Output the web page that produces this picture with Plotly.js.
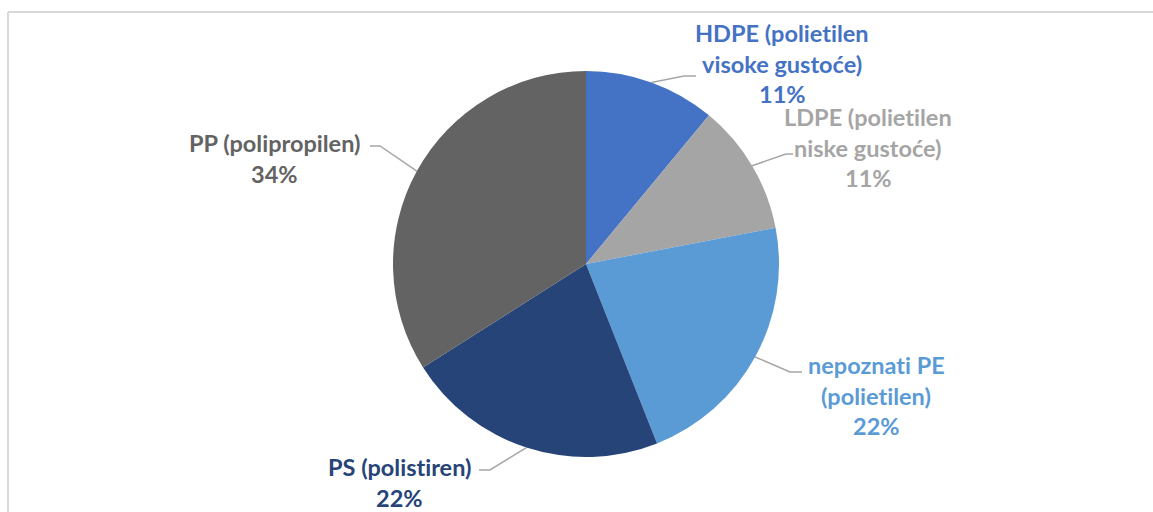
<!DOCTYPE html>
<html><head><meta charset="utf-8">
<script src="https://cdn.plot.ly/plotly-3.0.1.min.js"></script>
<style>html,body{margin:0;padding:0;background:#fff;overflow:hidden}
svg text{font-variant-ligatures:none;font-feature-settings:"liga" 0}</style>
</head><body><div id="chart" style="width:1153px;height:512px"></div>
<script>
// ---- data ----
const categories = ["HDPE (polietilen<br>visoke gustoće)", "LDPE (polietilen<br>niske gustoće)", "nepoznati PE<br>(polietilen)", "PS (polistiren)", "PP (polipropilen)"];
const shares = [11, 11, 22, 22, 34];
const sliceColors = ["#4472C4", "#A5A5A5", "#5B9BD5", "#264478", "#636363"];

// ---- layout geometry (pixels) ----
const W = 1153, H = 512;
const cx = 586, cy = 264, R = 193;
const labelX = [782, 868, 876, 399, 274];
const labelY = [33, 117, 365, 467, 143];
const lineStep = 30.5;
const elbowPts = [[684, 76], [786, 154], [790, 372], [490, 470], [380, 146]];
const endPts = [[696, 76], [793, 154], [802, 372], [479, 470], [370, 146]];

const px = x => x / W;
const py = y => 1 - y / H;

const total = shares.reduce((a, b) => a + b, 0);
const percentLabels = shares.map(v => Math.round(v / total * 100) + '%');

const annotations = [];
const shapes = [];
let cum = 0;
shares.forEach((v, i) => {
  const mid = (cum + v / 2) / total * 2 * Math.PI;
  cum += v;
  const sx = cx + R * Math.sin(mid), sy = cy - R * Math.cos(mid);
  shapes.push({
    type: 'path', xref: 'paper', yref: 'paper',
    path: `M ${px(sx)},${py(sy)} L ${px(elbowPts[i][0])},${py(elbowPts[i][1])} L ${px(endPts[i][0])},${py(endPts[i][1])}`,
    line: {color: '#A6A6A6', width: 1.5}
  });
  const lines = categories[i].split('<br>').concat([percentLabels[i]]);
  lines.forEach((t, k) => {
    annotations.push({
      xref: 'paper', yref: 'paper', x: px(labelX[i]), y: py(labelY[i] + k * lineStep),
      xanchor: 'center', yanchor: 'middle', showarrow: false,
      text: '<b>' + t + '</b>',
      font: {family: 'Lato, Open Sans, sans-serif', size: 23.5, color: sliceColors[i]}
    });
  });
});

// chart frame
shapes.push({type: 'line', xref: 'paper', yref: 'paper', x0: px(8), x1: px(W), y0: py(12), y1: py(12), line: {color: '#D9D9D9', width: 2}});
shapes.push({type: 'line', xref: 'paper', yref: 'paper', x0: px(8), x1: px(8), y0: py(12), y1: py(H), line: {color: '#D9D9D9', width: 2}});

const trace = {
  type: 'pie',
  labels: categories,
  values: shares,
  sort: false,
  direction: 'clockwise',
  rotation: 0,
  textinfo: 'none',
  hoverinfo: 'none',
  marker: {colors: sliceColors, line: {width: 0}},
  domain: {x: [px(cx - R), px(cx + R)], y: [py(cy + R), py(cy - R)]},
  showlegend: false
};

Plotly.newPlot('chart', [trace], {
  width: W, height: H,
  margin: {l: 0, r: 0, t: 0, b: 0},
  paper_bgcolor: '#ffffff',
  showlegend: false,
  annotations: annotations,
  shapes: shapes
}, {staticPlot: true});
</script></body></html>
